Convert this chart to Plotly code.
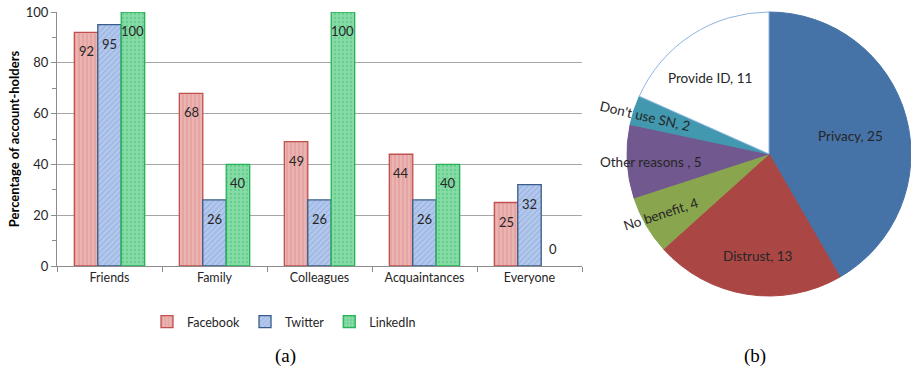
import math
import plotly.graph_objects as go

# ---------------- data ----------------
categories = ["Friends", "Family", "Colleagues", "Acquaintances", "Everyone"]
facebook = [92, 68, 49, 44, 25]
twitter = [95, 26, 26, 26, 32]
linkedin = [100, 40, 100, 40, 0]

pie_labels = ["Privacy", "Distrust", "No benefit", "Other reasons ", "Don't use SN", "Provide ID"]
pie_values = [25, 13, 4, 5, 2, 11]

y_ticks = [0, 20, 40, 60, 80, 100]

# ---------------- styles ----------------
W, H = 911, 374
FONT = "Lato, 'Open Sans', sans-serif"
TXT = "#262626"
BARGAP = 0.33

bar_styles = [
    ("Facebook", facebook, "#EBB3B2", "#D07F7D", "#C0504D", "|"),
    ("Twitter", twitter, "#B3C8EC", "#7F9FD6", "#385D8A", "/"),
    ("LinkedIn", linkedin, "#86DBA6", "#4FC47C", "#25B257", "."),
]

pie_colors = ["#4572A7", "#AA4643", "#89A54E", "#71588F", "#4198AF", "#FFFFFF"]
pie_line_colors = ["#4572A7", "#AA4643", "#89A54E", "#71588F", "#4198AF", "#8DB3E2"]
label_frac = [0.585, 0.72, 0.87, 0.83, 0.915, 0.68]
label_angle_shift = [2.5, -3, 1, -1, -1, -5]
label_textangle = [0, 0, -18, 0, 13, 0]

fig = go.Figure()
annotations = []

n_series = len(bar_styles)
bar_w = (1 - BARGAP) / n_series
for k, (name, vals, bg, fg, line, shape) in enumerate(bar_styles):
    fig.add_trace(go.Bar(
        name=name, x=categories, y=vals,
        cliponaxis=False,
        marker=dict(
            color=bg,
            line=dict(color=line, width=[1.3 if v > 0 else 0 for v in vals]),
            pattern=dict(shape=shape, fgcolor=fg, bgcolor=bg, size=4,
                         solidity=0.25, fillmode="overlay", fgopacity=0.6),
        ),
        xaxis="x", yaxis="y",
    ))
    # value labels, placed in data space on the bar's own slot
    for i, v in enumerate(vals):
        xpos = i + (k - (n_series - 1) / 2) * bar_w
        annotations.append(dict(
            x=xpos, y=v, xref="x", yref="y", text=str(v), showarrow=False,
            yanchor="top" if v > 0 else "bottom", yshift=-9 if v > 0 else 7,
            font=dict(family=FONT, size=13, color=TXT),
        ))

# pie geometry (pixels)
cx_px, cy_px, R = 769, 154, 142
fig.add_trace(go.Pie(
    labels=pie_labels, values=pie_values,
    sort=False, direction="clockwise", rotation=0,
    textinfo="none", showlegend=False,
    marker=dict(colors=pie_colors, line=dict(color=pie_line_colors, width=1)),
    domain=dict(x=[(cx_px - R) / W, (cx_px + R) / W],
                y=[(H - cy_px - R) / H, (H - cy_px + R) / H]),
))

total = sum(pie_values)
cum = 0
for i, (lab, v) in enumerate(zip(pie_labels, pie_values)):
    mid = (cum + v / 2) / total * 360 + label_angle_shift[i]
    cum += v
    th = math.radians(mid)
    px = cx_px + label_frac[i] * R * math.sin(th)
    py = cy_px - label_frac[i] * R * math.cos(th)
    annotations.append(dict(
        x=px / W, y=1 - py / H, xref="paper", yref="paper",
        text="%s, %d" % (lab, v), showarrow=False, textangle=label_textangle[i],
        font=dict(family=FONT, size=13.5, color=TXT),
        xanchor="center", yanchor="middle",
    ))

annotations += [
    dict(x=285 / W, y=1 - 356 / H, xref="paper", yref="paper", text="(a)",
         showarrow=False, xanchor="center", yanchor="middle",
         font=dict(family="'Liberation Serif', serif", size=19, color="#000")),
    dict(x=755 / W, y=1 - 356 / H, xref="paper", yref="paper", text="(b)",
         showarrow=False, xanchor="center", yanchor="middle",
         font=dict(family="'Liberation Serif', serif", size=19, color="#000")),
]

fig.update_layout(
    width=W, height=H,
    margin=dict(l=0, r=0, t=0, b=0, autoexpand=False),
    paper_bgcolor="white", plot_bgcolor="white",
    barmode="group", bargap=BARGAP, bargroupgap=0,
    font=dict(family=FONT, size=12.5, color=TXT),
    xaxis=dict(
        domain=[57 / W, 582 / W], automargin=False,
        showline=True, linecolor="#8C8C8C", linewidth=1,
        ticks="outside", tickson="boundaries", ticklen=5, tickcolor="#8C8C8C",
        tickfont=dict(family=FONT, size=12.5, color=TXT),
        showgrid=False, fixedrange=True,
    ),
    yaxis=dict(
        domain=[1 - 266 / H, 1 - 12 / H], automargin=False,
        range=[0, 100], tickvals=y_ticks,
        showline=True, linecolor="#8C8C8C", linewidth=1,
        ticks="outside", ticklen=5, tickcolor="#8C8C8C",
        minor=dict(ticks="outside", dtick=10, ticklen=4, tickcolor="#8C8C8C", showgrid=False),
        showgrid=True, gridcolor="#A6A6A6", gridwidth=1,
        zeroline=False,
        tickfont=dict(family=FONT, size=13, color=TXT),
        title=dict(text="<b>Percentage of account-holders</b>",
                   font=dict(family=FONT, size=13, color="#000"), standoff=3),
    ),
    legend=dict(
        orientation="h", x=284 / W, y=1 - 322 / H, xanchor="center", yanchor="middle",
        font=dict(family=FONT, size=12.5, color=TXT),
        itemwidth=30, tracegroupgap=0, bgcolor="rgba(0,0,0,0)",
    ),
    annotations=annotations,
)

fig.write_html("out.html")
